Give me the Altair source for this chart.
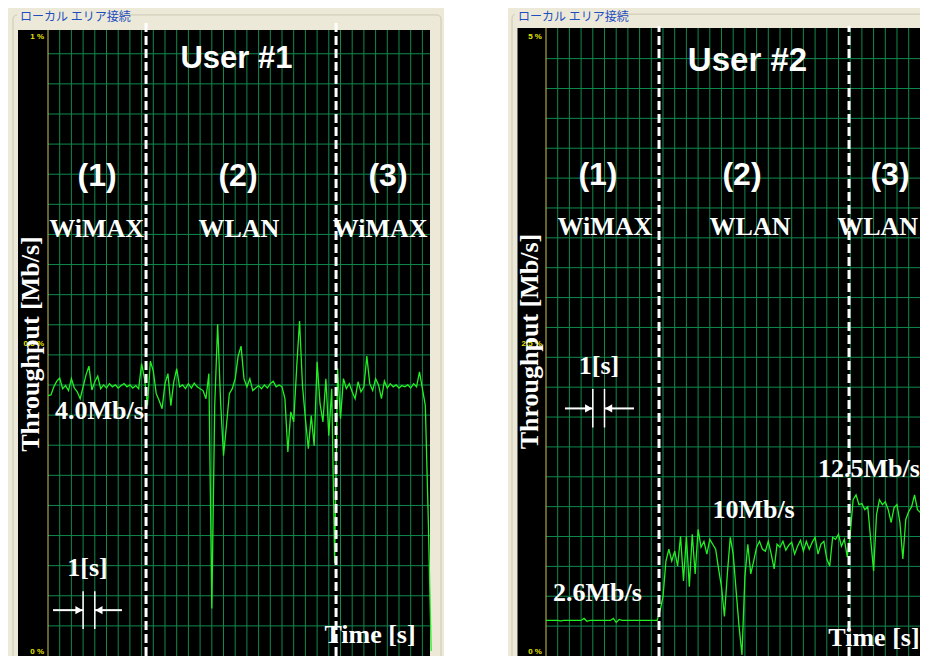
import altair as alt
import pandas as pd

# ------------------------------------------------------------------ data
STEP_S = 0.25  # seconds between samples of the throughput trace

user1_mbps = [
    4.16, 4.17, 4.30, 4.39, 4.44, 4.27, 4.32, 4.24, 4.43, 4.28,
    4.22, 4.11, 4.30, 4.49, 4.63, 4.25, 4.38, 4.47, 4.27, 4.33,
    4.28, 4.35, 4.30, 4.33, 4.28, 4.32, 4.35, 4.30, 4.33, 4.28,
    4.32, 4.27, 4.67, 4.43, 4.00, 4.71, 4.55, 4.19, 4.08, 3.95,
    4.35, 4.51, 4.00, 4.38, 4.59, 4.30, 4.33, 4.27, 4.35, 4.28,
    4.36, 4.30, 4.27, 4.24, 4.11, 4.51, 0.76, 4.00, 5.30, 4.06,
    3.20, 3.68, 4.19, 4.27, 4.43, 4.79, 4.95, 4.43, 4.30, 4.43,
    4.24, 4.28, 4.32, 4.27, 4.33, 4.28, 4.35, 4.39, 4.30, 4.33,
    4.30, 4.11, 3.26, 3.90, 3.74, 4.59, 5.35, 4.32, 3.79, 3.31,
    3.84, 3.36, 4.70, 4.03, 3.74, 4.43, 3.52, 4.27, 1.48, 4.59,
    3.79, 4.43, 4.27, 4.35, 4.22, 4.11, 4.38, 4.22, 4.30, 4.79,
    4.35, 4.24, 4.43, 4.33, 4.11, 4.39, 4.28, 4.35, 4.30, 4.33,
    4.28, 4.32, 4.30, 4.33, 4.28, 4.35, 4.30, 4.54, 4.27, 4.00,
    2.20, 0.08,
]

user2_mbps = [
    2.83, 2.83, 2.83, 2.83, 2.83, 2.80, 2.83, 2.83, 2.83, 2.83,
    2.83, 2.83, 2.83, 2.99, 2.76, 2.83, 2.83, 2.83, 2.83, 2.83,
    2.83, 2.83, 2.83, 2.99, 2.68, 2.91, 2.83, 2.83, 2.83, 2.83,
    2.83, 2.83, 2.83, 2.83, 2.83, 2.83, 2.83, 2.83, 2.83, 3.62,
    4.72, 7.56, 8.50, 7.56, 8.35, 7.17, 9.53, 5.98, 9.53, 5.51,
    9.69, 6.54, 10.08, 8.66, 9.13, 8.11, 9.29, 8.90, 8.50, 6.93,
    5.51, 3.15, 6.54, 9.45, 8.11, 5.20, 2.36, 0.08, 6.30, 8.90,
    6.54, 7.56, 8.66, 9.13, 8.50, 8.35, 9.13, 8.11, 6.93, 8.90,
    8.66, 9.13, 8.43, 8.82, 9.06, 8.11, 8.74, 9.21, 8.35, 9.13,
    8.50, 9.06, 9.45, 8.11, 8.90, 9.13, 7.72, 7.17, 9.45, 9.29,
    9.69, 8.74, 9.29, 7.87, 9.69, 12.44, 12.83, 12.05, 12.13, 11.65,
    11.89, 9.29, 6.77, 11.26, 12.44, 12.05, 12.28, 11.65, 10.63, 11.81,
    12.05, 10.63, 7.72, 10.87, 11.50, 11.89, 12.83, 11.65, 11.42, 11.89,
    11.65, 11.81,
]

handover1_s = [8.38, 24.62]
handover2_s = [9.66, 25.90]

box_title = "ローカル エリア接続"
user_labels = ["User #1", "User #2"]
phase_labels = ["(1)", "(2)", "(3)"]
tech1 = ["WiMAX", "WLAN", "WiMAX"]
tech2 = ["WiMAX", "WLAN", "WLAN"]
rate_labels1 = ["4.0Mb/s"]
rate_labels2 = ["2.6Mb/s", "10Mb/s", "12.5Mb/s"]
scale_labels1 = ["1 %", "0.5 %", "0 %"]
scale_labels2 = ["5 %", "2.5 %", "0 %"]
y_title = "Throughput [Mb/s]"
x_title = "Time [s]"
one_sec = "1[s]"

# ------------------------------------------------------------------ style
BEIGE = "#ECE9D8"
GRID = "#0E8A4C"
TRACE = "#22F022"
AXIS_YEL = "#C8C850"
LABEL_YEL = "#E6E600"
SANS = "Liberation Sans"
SERIF = "Liberation Serif"
H = 648

P1 = dict(
    w=436, xdom=[-3.419, 33.846], ydom=[0, 10.351],
    black=(-2.564, 32.65, 0, 10.0), border=(-2.991, 33.59, -0.5, 10.24),
    patch=(-2.65, 5.95, 10.08, 10.351), title_xy=(-2.393, 10.205),
    vgrid=list(range(1, 33)), hgrid_step=0.481, gtop=10.0, gright=32.65,
    dash_top=10.11,
    scale_xy=[(-0.342, 9.857), (-0.342, 4.952), (-0.342, 0.032)],
    user_xy=(16.11, 9.395), user_size=31,
    phase_x=[4.19, 16.24, 29.06], phase_y=7.50,
    tech_x=[4.15, 16.32, 28.38], tech_y=6.70,
    rate_xy=[(4.40, 3.79)],
    sec_xy=(3.38, 1.274), time_xy=(27.52, 0.207), ytitle_xy=(-1.453, 4.984),
    arrow_y=0.7325, arrow_l=(0.43, 3.0), arrow_r=(6.32, 4.0),
    head_off=0.35, tick_y=(0.43, 1.035),
)
P2 = dict(
    w=412, xdom=[-3.248, 31.966], ydom=[0, 51.59],
    black=(-2.436, 33.0, 0, 50.0), border=(-2.906, 40.0, -3.0, 51.1),
    patch=(-2.65, 5.78, 50.25, 51.59), title_xy=(-2.393, 50.85),
    vgrid=list(range(1, 32)), hgrid_step=2.378, gtop=50.0, gright=33.0,
    dash_top=50.16,
    scale_xy=[(-0.342, 49.13), (-0.342, 24.72), (-0.342, 0.157)],
    user_xy=(17.22, 46.54), user_size=33,
    phase_x=[4.44, 16.75, 29.4], phase_y=37.48,
    tech_x=[5.04, 17.44, 28.35], tech_y=33.54,
    rate_xy=[(4.40, 4.41), (17.74, 11.02), (27.6, 14.25)],
    sec_xy=(4.53, 22.44), time_xy=(28.03, 0.787), ytitle_xy=(-1.368, 25.04),
    arrow_y=19.71, arrow_l=(1.62, 4.0), arrow_r=(7.52, 5.0),
    head_off=0.35, tick_y=(18.19, 21.26),
)


def build_panel(values, handovers, user, techs, rates, scales, c):
    xs = alt.Scale(domain=c["xdom"], nice=False, zero=False)
    ys = alt.Scale(domain=c["ydom"], nice=False, zero=False)

    def X(f):
        return alt.X(f"{f}:Q", scale=xs, axis=None)

    def Y(f):
        return alt.Y(f"{f}:Q", scale=ys, axis=None)

    def rect_df(t):
        return pd.DataFrame([dict(x0=t[0], x1=t[1], y0=t[2], y1=t[3])])

    def text_df(rows):
        return pd.DataFrame([dict(text=t, x=x, y=y) for t, x, y in rows])

    def text_layer(rows, clip=True, **kw):
        return alt.Chart(text_df(rows)).mark_text(clip=clip, **kw).encode(
            x=X("x"), y=Y("y"), text="text:N")

    L = []
    # group box border
    L.append(alt.Chart(rect_df(c["border"])).mark_rect(
        fillOpacity=0, stroke="#CDC8B4", strokeWidth=1, cornerRadius=4, clip=True
    ).encode(x=X("x0"), x2=alt.X2("x1"), y=Y("y0"), y2=alt.Y2("y1")))
    L.append(alt.Chart(rect_df(c["patch"])).mark_rect(fill=BEIGE, clip=True).encode(
        x=X("x0"), x2=alt.X2("x1"), y=Y("y0"), y2=alt.Y2("y1")))
    L.append(text_layer([(box_title,) + c["title_xy"]], clip=False,
                        font="Noto Sans CJK JP", fontSize=12, color="#1F4FBF",
                        align="left", baseline="middle"))
    # black graph area
    L.append(alt.Chart(rect_df(c["black"])).mark_rect(fill="black", clip=True).encode(
        x=X("x0"), x2=alt.X2("x1"), y=Y("y0"), y2=alt.Y2("y1")))
    # grid
    vg = pd.DataFrame(dict(x=c["vgrid"], y0=0.0, y1=c["gtop"]))
    L.append(alt.Chart(vg).mark_rule(color=GRID, strokeWidth=1, clip=True).encode(
        x=X("x"), y=Y("y0"), y2=alt.Y2("y1")))
    hg = pd.DataFrame(dict(y=[c["hgrid_step"] * k for k in range(1, 21)],
                           x0=0.0, x1=c["gright"]))
    L.append(alt.Chart(hg).mark_rule(color=GRID, strokeWidth=1, clip=True).encode(
        y=Y("y"), x=X("x0"), x2=alt.X2("x1")))
    ax = pd.DataFrame(dict(x=[0.0], y0=[0.0], y1=[c["gtop"]]))
    L.append(alt.Chart(ax).mark_rule(color=AXIS_YEL, strokeWidth=1, clip=True).encode(
        x=X("x"), y=Y("y0"), y2=alt.Y2("y1")))
    L.append(text_layer([(s,) + xy for s, xy in zip(scales, c["scale_xy"])],
                        font=SANS, fontSize=8, fontWeight="bold", color=LABEL_YEL,
                        align="right", baseline="alphabetic"))
    # throughput trace
    tr = pd.DataFrame(dict(t=[STEP_S * i for i in range(len(values))], v=values))
    L.append(alt.Chart(tr).mark_line(color=TRACE, strokeWidth=1.3, clip=True).encode(
        x=X("t"), y=Y("v")))
    # handover dashed lines
    hd = pd.DataFrame(dict(x=handovers, y0=0.0, y1=c["dash_top"]))
    L.append(alt.Chart(hd).mark_rule(color="white", strokeWidth=3, strokeDash=[9, 4],
                                     clip=True).encode(x=X("x"), y=Y("y0"), y2=alt.Y2("y1")))
    # texts
    L.append(text_layer([(user,) + c["user_xy"]], font=SANS, fontSize=c["user_size"],
                        fontWeight="bold", color="white", align="center",
                        baseline="alphabetic"))
    L.append(text_layer([(p, x, c["phase_y"]) for p, x in zip(phase_labels, c["phase_x"])],
                        font=SANS, fontSize=32, fontWeight="bold", color="white",
                        align="center", baseline="alphabetic"))
    serif_rows = [(t, x, c["tech_y"]) for t, x in zip(techs, c["tech_x"])]
    serif_rows += [(r,) + xy for r, xy in zip(rates, c["rate_xy"])]
    serif_rows += [(one_sec,) + c["sec_xy"], (x_title,) + c["time_xy"]]
    L.append(text_layer(serif_rows, font=SERIF, fontSize=26, fontWeight="bold",
                        color="white", align="center", baseline="alphabetic"))
    L.append(text_layer([(y_title,) + c["ytitle_xy"]], font=SERIF, fontSize=26,
                        fontWeight="bold", color="white", align="center",
                        baseline="middle", angle=270))
    # 1[s] arrows
    ay = c["arrow_y"]
    sh = pd.DataFrame([dict(x0=c["arrow_l"][0], x1=c["arrow_l"][1], y=ay),
                       dict(x0=c["arrow_r"][0], x1=c["arrow_r"][1], y=ay)])
    L.append(alt.Chart(sh).mark_rule(color="white", strokeWidth=2, clip=True).encode(
        x=X("x0"), x2=alt.X2("x1"), y=Y("y")))
    hr = pd.DataFrame([dict(x=c["arrow_l"][1] - c["head_off"], y=ay)])
    L.append(alt.Chart(hr).mark_point(shape="triangle-right", filled=True, size=70,
                                      color="white", opacity=1, clip=True).encode(
        x=X("x"), y=Y("y")))
    hl = pd.DataFrame([dict(x=c["arrow_r"][1] + c["head_off"], y=ay)])
    L.append(alt.Chart(hl).mark_point(shape="triangle-left", filled=True, size=70,
                                      color="white", opacity=1, clip=True).encode(
        x=X("x"), y=Y("y")))
    tk = pd.DataFrame(dict(x=[c["arrow_l"][1], c["arrow_r"][1]],
                           y0=c["tick_y"][0], y1=c["tick_y"][1]))
    L.append(alt.Chart(tk).mark_rule(color="white", strokeWidth=1.5, clip=True).encode(
        x=X("x"), y=Y("y0"), y2=alt.Y2("y1")))

    return alt.layer(*L).properties(width=c["w"], height=H)


p1 = build_panel(user1_mbps, handover1_s, user_labels[0], tech1, rate_labels1,
                 scale_labels1, P1)
p2 = build_panel(user2_mbps, handover2_s, user_labels[1], tech2, rate_labels2,
                 scale_labels2, P2)

chart = (
    alt.hconcat(p1, p2, spacing=64)
    .properties(padding=0, background="white")
    .configure_view(strokeWidth=0, fill=BEIGE)
)

chart.save("out.html", embed_options={"renderer": "svg", "actions": False})
